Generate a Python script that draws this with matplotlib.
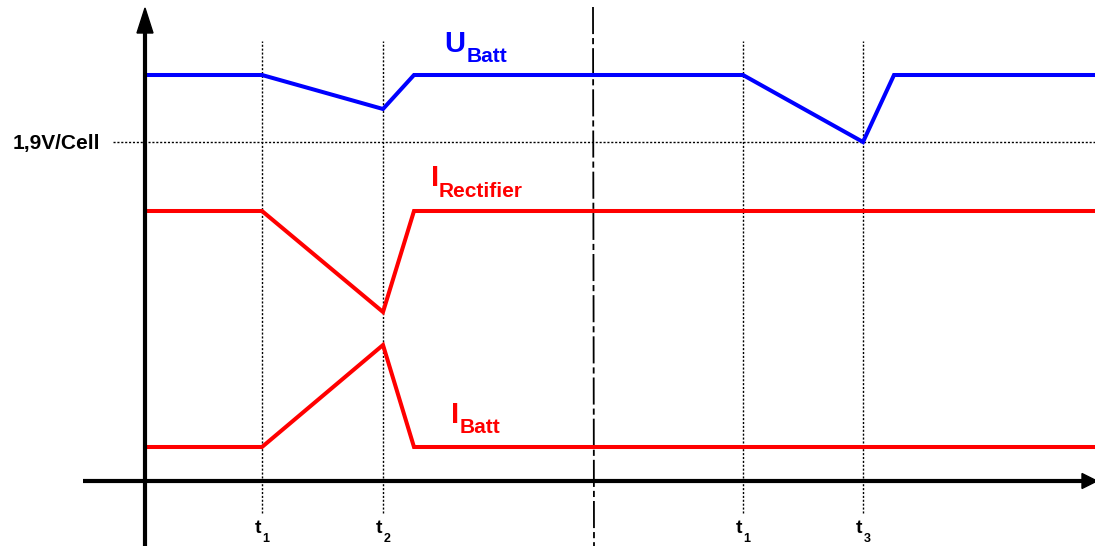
import matplotlib
matplotlib.use("Agg")
import matplotlib.pyplot as plt
from matplotlib.patches import Polygon

# ---- schematic data (time in arbitrary units, levels in arbitrary units) ----
t_ubatt = [0.0, 11.7, 23.8, 26.9, 59.8, 71.8, 74.9, 95.0]
u_batt = [40.6, 40.6, 37.2, 40.6, 40.6, 33.9, 40.6, 40.6]

t_irect = [0.0, 11.7, 23.8, 26.9, 95.0]
i_rect = [27.0, 27.0, 16.9, 27.0, 27.0]

t_ibatt = [0.0, 11.7, 23.8, 26.9, 95.0]
i_batt = [3.4, 3.4, 13.6, 3.4, 3.4]

u_cell_level = 33.9           # 1,9 V/Cell threshold
cell_label = "1,9V/Cell"

t_marks = [11.7, 23.8, 59.8, 71.8]
t_mark_subs = ["1", "2", "1", "3"]
t_break = [44.8, 44.9]        # dash-dot time break (top, bottom)

BLUE = "#0000FF"
RED = "#FF0000"

plt.rcParams["font.family"] = ["Liberation Sans", "DejaVu Sans"]

fig = plt.figure(figsize=(10.95, 5.46), dpi=100)
ax = fig.add_axes([0, 0, 1, 1])
ax.set_xlim(-14.5, 95.0)
ax.set_ylim(-6.5, 48.1)
ax.axis("off")

# axes with arrows
ax.plot([0, 0], [-6.5, 46.0], color="black", lw=3, solid_capstyle="butt", zorder=5)
ax.add_patch(Polygon([[-0.8, 44.8], [0.8, 44.8], [0, 47.3]], closed=True,
                     color="black", zorder=5))
ax.plot([-6.2, 94.0], [0, 0], color="black", lw=3, solid_capstyle="butt", zorder=5)
ax.add_patch(Polygon([[93.7, 0.75], [93.7, -0.75], [95.2, 0]], closed=True,
                     color="black", zorder=5))

# dotted guides
for tm in t_marks:
    ax.plot([tm, tm], [-3.2, 44.0], color="black", lw=1.0,
            dashes=(1.5, 1.3), zorder=1)
ax.plot([-3.2, 95.0], [u_cell_level, u_cell_level], color="black", lw=1.0,
        dashes=(1.5, 1.3), zorder=1)

# dash-dot break line
ax.plot(t_break, [47.4, -6.5], color="black", lw=1.3,
        dashes=(15, 2.2, 3.4, 2.2), zorder=2)

# signals
kw = dict(lw=2.9, solid_joinstyle="miter", solid_capstyle="butt", zorder=4)
ax.plot(t_ubatt, u_batt, color=BLUE, **kw)
ax.plot(t_irect, i_rect, color=RED, **kw)
ax.plot(t_ibatt, i_batt, color=RED, **kw)

# labels
ax.text(-4.5, 33.15, cell_label, ha="right", va="baseline",
        fontsize=15, fontweight="bold", color="black")

ax.text(29.9, 42.9, "U", ha="left", va="baseline", fontsize=21,
        fontweight="bold", color=BLUE)
ax.text(32.2, 41.9, "Batt", ha="left", va="baseline", fontsize=15,
        fontweight="bold", color=BLUE)

ax.text(28.6, 29.5, "I", ha="left", va="baseline", fontsize=21,
        fontweight="bold", color=RED)
ax.text(29.4, 28.4, "Rectifier", ha="left", va="baseline", fontsize=15,
        fontweight="bold", color=RED)

ax.text(30.6, 5.8, "I", ha="left", va="baseline", fontsize=21,
        fontweight="bold", color=RED)
ax.text(31.5, 4.8, "Batt", ha="left", va="baseline", fontsize=15,
        fontweight="bold", color=RED)

for tm, sub in zip(t_marks, t_mark_subs):
    ax.text(tm - 0.75, -5.2, "t", ha="left", va="baseline", fontsize=14,
            fontweight="bold", color="black")
    ax.text(tm + 0.05, -6.1, sub, ha="left", va="baseline", fontsize=9,
            fontweight="bold", color="black")

fig.savefig("out.png", dpi=100)
